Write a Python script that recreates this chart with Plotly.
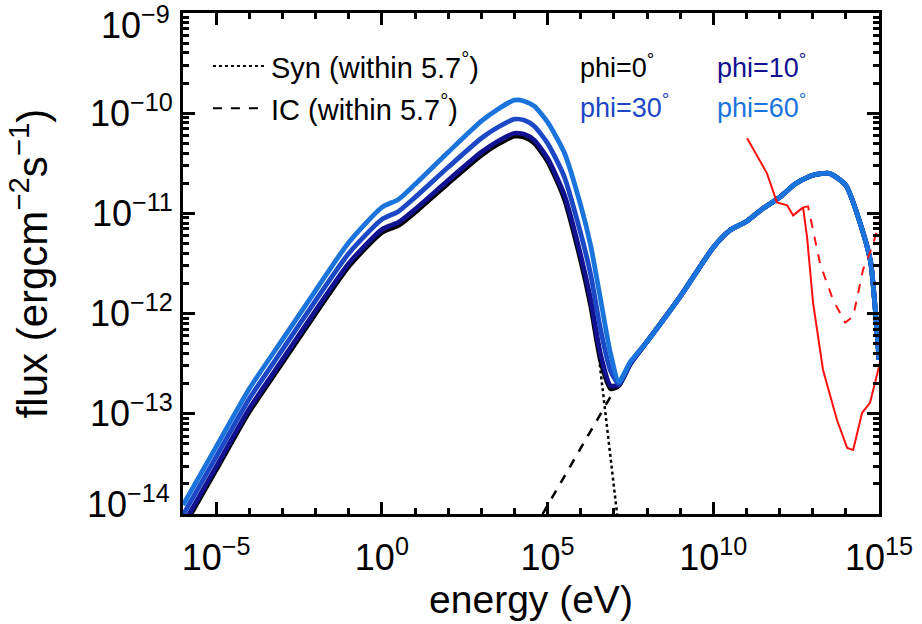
import plotly.graph_objects as go

# ---------------- data (log10 values) ----------------
# low-energy part (synchrotron + start of IC), per viewing angle
sed_logE_low = [-6, -5, -4, -3, -2, -1, 0, 0.5, 1, 2, 3, 3.5, 4, 4.3, 4.6, 5, 5.5, 6, 6.3, 6.6, 6.9, 7.15, 7.5]
phi0_logF_low = [-14.14, -13.56, -12.98, -12.49, -12.00, -11.53, -11.19, -11.12, -10.99, -10.70, -10.42,
                 -10.31, -10.23, -10.24, -10.30, -10.48, -10.85, -11.47, -11.92, -12.47, -12.75, -12.72, -12.50]
phi10_logF_low = [-14.11, -13.53, -12.95, -12.46, -11.97, -11.50, -11.16, -11.09, -10.96, -10.67, -10.39,
                  -10.28, -10.20, -10.21, -10.27, -10.45, -10.81, -11.42, -11.86, -12.41, -12.72, -12.71, -12.50]
phi30_logF_low = [-14.01, -13.43, -12.85, -12.36, -11.87, -11.40, -11.06, -10.98, -10.84, -10.54, -10.25,
                  -10.14, -10.06, -10.07, -10.13, -10.30, -10.63, -11.20, -11.61, -12.16, -12.57, -12.70, -12.49]
phi60_logF_low = [-13.91, -13.33, -12.75, -12.26, -11.77, -11.29, -10.94, -10.86, -10.71, -10.39, -10.08,
                  -9.96, -9.87, -9.88, -9.93, -10.09, -10.39, -10.92, -11.32, -11.86, -12.40, -12.68, -12.48]
# high-energy IC part (common to all angles)
sed_logE_high = [8, 9, 10, 10.5, 11, 11.5, 12, 12.5, 13, 13.5, 14, 14.5, 14.75, 14.9, 15]
sed_logF_high = [-12.28, -11.83, -11.34, -11.17, -11.08, -10.95, -10.84, -10.70, -10.62, -10.60,
                 -10.72, -11.17, -11.49, -12.01, -12.46]

# Syn (within 5.7 deg) and IC (within 5.7 deg)
syn_logE = [6.45, 6.58, 6.73, 6.82, 6.98, 7.07, 7.15]
syn_logF = [-12.15, -12.53, -12.96, -13.26, -13.73, -13.96, -14.15]
ic_logE = [4.85, 5.68, 6.28, 6.67, 7.04, 7.4]
ic_logF = [-14.00, -13.53, -13.18, -12.96, -12.75, -12.54]

# red sensitivity curves
red_logE = [11.02, 11.62, 11.92, 12.23, 12.41, 12.62, 12.71, 12.83, 13.01, 13.31, 13.73, 14.04, 14.22,
            14.49, 14.73, 15.03]
red_logF = [-10.25, -10.60, -10.89, -10.92, -11.02, -10.97, -10.94, -11.24, -11.89, -12.56, -13.06,
            -13.34, -13.36, -12.99, -12.89, -12.49]
redd_logE = [12.71, 12.86, 13.22, 13.61, 13.98, 14.22, 14.52, 14.79, 15.03]
redd_logF = [-10.94, -10.93, -11.50, -11.86, -12.09, -12.03, -11.56, -11.34, -11.07]

series = [
    ("phi=0°", phi0_logF_low, "#000000"),
    ("phi=10°", phi10_logF_low, "#121290"),
    ("phi=30°", phi30_logF_low, "#1c48c6"),
    ("phi=60°", phi60_logF_low, "#1a74dc"),
]

x_tick_exp = [-5, 0, 5, 10, 15]
y_tick_exp = [-9, -10, -11, -12, -13, -14]
y_edge_exp = [-9, -14]          # edge labels drawn nudged inward, as in the reference

FONT = "Liberation Sans"


def p10(v):
    return [10 ** a for a in v]


def exp_label(e):
    return "10<sup>\u2212%d</sup>" % (-e) if e < 0 else "10<sup>%d</sup>" % e


fig = go.Figure()

fig.add_trace(go.Scatter(x=p10(syn_logE), y=p10(syn_logF), mode="lines",
                         line=dict(color="black", width=2.5, dash="dot"), showlegend=False))
fig.add_trace(go.Scatter(x=p10(ic_logE), y=p10(ic_logF), mode="lines",
                         line=dict(color="black", width=2.5, dash="dash"), showlegend=False))

for name, low, col in series:
    xs = p10(sed_logE_low + sed_logE_high)
    ys = p10(low + sed_logF_high)
    fig.add_trace(go.Scatter(x=xs, y=ys, mode="lines", name=name,
                             line=dict(color=col, width=4.8, shape="spline", smoothing=0.6),
                             showlegend=False))

fig.add_trace(go.Scatter(x=p10(red_logE), y=p10(red_logF), mode="lines",
                         line=dict(color="#ff1010", width=2), showlegend=False))
fig.add_trace(go.Scatter(x=p10(redd_logE), y=p10(redd_logF), mode="lines",
                         line=dict(color="#ff1010", width=2, dash="dash"), showlegend=False))

axis_common = dict(
    type="log", showline=True, linecolor="black", linewidth=3, mirror="allticks",
    ticks="inside", tickcolor="black", tickwidth=2.5, ticklen=12, showgrid=False, zeroline=False,
    tickfont=dict(family=FONT, size=36, color="black"), ticklabeloverflow="allow", automargin=False,
)

fig.update_xaxes(
    **axis_common,
    range=[-6, 15],
    tickvals=[10 ** e for e in x_tick_exp],
    ticktext=[exp_label(e) for e in x_tick_exp],
    ticklabelstandoff=10,
    minor=dict(tickvals=[10 ** e for e in range(-6, 16)], ticklen=6, tickwidth=2.5,
               tickcolor="black", ticks="inside"),
    title=dict(text="energy (eV)", font=dict(family=FONT, size=39, color="black"), standoff=4),
)
fig.update_yaxes(
    **axis_common,
    range=[-14, -9],
    tickvals=[10 ** e for e in y_tick_exp],
    ticktext=["" if e in y_edge_exp else exp_label(e) for e in y_tick_exp],
    minor=dict(tickvals=[m * 10 ** e for e in range(-14, -9) for m in range(2, 10)], ticklen=6,
               tickwidth=2.5, tickcolor="black", ticks="inside"),
    title=dict(text="flux (ergcm<sup>\u22122</sup>s<sup>\u22121</sup>)",
               font=dict(family=FONT, size=42, color="black"), standoff=30),
)

# edge tick labels, nudged inside the figure like the original
for e, shift in zip(y_edge_exp, [-10, 12]):
    fig.add_annotation(xref="paper", yref="y", x=-0.0158, y=e, xanchor="right", yanchor="middle",
                       yshift=shift, text=exp_label(e), showarrow=False,
                       font=dict(family=FONT, size=36, color="black"))

# in-plot legend
fig.add_shape(type="line", xref="paper", yref="paper", x0=0.043, x1=0.118, y0=0.894, y1=0.894,
              line=dict(color="black", width=2, dash="dot"))
fig.add_shape(type="line", xref="paper", yref="paper", x0=0.043, x1=0.118, y0=0.81, y1=0.81,
              line=dict(color="black", width=2, dash="dash"))
fig.add_annotation(xref="paper", yref="paper", x=0.123, y=0.894, xanchor="left", yanchor="middle",
                   text="Syn (within 5.7<sup>°</sup>)", showarrow=False,
                   font=dict(family=FONT, size=29, color="black"))
fig.add_annotation(xref="paper", yref="paper", x=0.123, y=0.81, xanchor="left", yanchor="middle",
                   text="IC (within 5.7<sup>°</sup>)", showarrow=False,
                   font=dict(family=FONT, size=29, color="black"))

label_pos = [(0.568, 0.894), (0.764, 0.894), (0.568, 0.815), (0.764, 0.815)]
for (name, _, col), (lx, ly) in zip(series, label_pos):
    fig.add_annotation(xref="paper", yref="paper", x=lx, y=ly, xanchor="left", yanchor="middle",
                       text=name.replace("°", "<sup>°</sup>"), showarrow=False,
                       font=dict(family=FONT, size=27, color=col))

fig.update_layout(
    width=922, height=624,
    margin=dict(l=183, r=43, t=13, b=110),
    paper_bgcolor="white", plot_bgcolor="white",
    showlegend=False,
)

fig.write_html("out.html")
